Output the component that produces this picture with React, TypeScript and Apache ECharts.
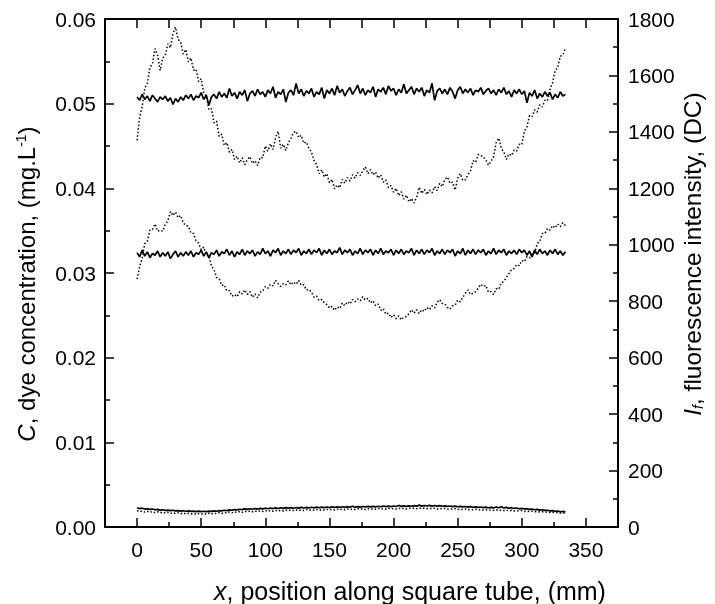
import { useEffect, useRef } from 'react';
import * as echarts from 'echarts';

// sample grid along the tube (mm)
const X_START = 0;
const X_STEP = 2;

// plot frame corners (axis units)
const FRAME = [[-25, 0], [375, 0], [375, 0.06], [-25, 0.06], [-25, 0]];

// fluorescence intensity (DC), right axis - dotted curves
const intensityHigh = [
  1370,1452,1488,1556,1572,1628,1641,1695,1672,1618,
  1662,1671,1712,1698,1748,1771,1728,1718,1676,1692,
  1648,1662,1619,1622,1578,1588,1536,1528,1478,1482,
  1432,1438,1384,1392,1352,1362,1328,1338,1302,1314,
  1290,1308,1284,1302,1312,1288,1298,1281,1310,1308,
  1350,1332,1358,1338,1380,1402,1342,1356,1334,1362,
  1378,1398,1402,1380,1388,1360,1364,1342,1328,1298,
  1284,1252,1266,1240,1252,1220,1232,1198,1212,1202,
  1232,1218,1238,1226,1248,1236,1256,1246,1262,1276,
  1252,1266,1248,1258,1236,1248,1222,1230,1202,1210,
  1186,1200,1174,1188,1162,1176,1152,1164,1148,1168,
  1204,1182,1196,1178,1194,1184,1206,1192,1218,1206,
  1232,1240,1218,1222,1194,1236,1252,1228,1230,1248,
  1262,1298,1292,1320,1316,1312,1300,1282,1296,1312,
  1362,1378,1342,1328,1302,1322,1316,1336,1332,1356,
  1354,1402,1418,1458,1454,1478,1470,1496,1488,1512,
  1510,1552,1574,1618,1628,1668,1672,1696,
];

const intensityMid = [
  878,922,952,1004,1012,1052,1054,1074,1048,1052,
  1048,1072,1084,1118,1104,1116,1096,1104,1078,1068,
  1066,1042,1040,1014,1006,982,992,962,962,924,
  912,884,880,856,858,836,838,818,824,816,
  834,826,840,824,834,814,826,812,832,836,
  852,846,860,854,874,862,852,862,858,872,
  858,868,860,874,856,858,840,842,832,814,
  818,802,806,794,788,776,782,768,780,774,
  794,784,798,790,806,798,808,802,816,804,
  810,794,802,784,790,768,774,754,758,742,
  752,738,748,734,744,746,756,770,758,770,
  756,770,764,778,770,784,776,796,806,792,
  790,778,772,784,786,804,798,814,828,840,
  824,828,834,846,860,852,856,832,834,824,
  844,842,866,870,884,898,912,916,930,926,
  944,940,958,954,968,970,1004,1012,1040,1040,
  1058,1052,1068,1060,1074,1064,1078,1068,
];

const intensityLow = [
  58,54,57,53,56,52,55,51,54,50,
  53,49,52,48,51,47,50,47,50,46,
  49,46,48,45,48,45,48,46,49,46,
  50,47,51,48,52,49,53,50,54,51,
  55,52,56,53,57,54,57,54,58,55,
  58,55,59,56,59,56,60,57,60,57,
  61,58,61,58,61,58,62,59,62,59,
  62,59,62,60,63,60,63,60,63,61,
  64,61,64,61,64,62,65,62,65,62,
  65,62,65,63,66,63,66,63,66,64,
  66,64,67,64,67,64,67,65,67,65,
  68,65,67,65,67,64,67,64,66,64,
  66,63,65,63,65,62,64,62,64,61,
  63,61,63,60,62,60,62,59,61,59,
  61,58,60,58,60,57,59,57,58,56,
  58,55,57,55,56,54,55,53,54,52,
  53,51,52,50,51,49,50,48,
];

// dye concentration (mg/L), left axis - solid curves
const concHigh = [
  0.0508,0.0504,0.0511,0.0505,0.0509,0.0503,0.0510,0.0506,0.0502,0.0508,
  0.0505,0.0509,0.0503,0.0507,0.0499,0.0506,0.0502,0.0508,0.0504,0.0510,
  0.0506,0.0511,0.0504,0.0509,0.0507,0.0513,0.0505,0.0510,0.0498,0.0508,
  0.0511,0.0506,0.0514,0.0508,0.0512,0.0507,0.0518,0.0509,0.0513,0.0506,
  0.0514,0.0510,0.0516,0.0503,0.0512,0.0515,0.0509,0.0517,0.0511,0.0514,
  0.0508,0.0516,0.0512,0.0520,0.0507,0.0514,0.0511,0.0517,0.0502,0.0513,
  0.0516,0.0510,0.0524,0.0512,0.0517,0.0509,0.0515,0.0512,0.0518,0.0508,
  0.0514,0.0511,0.0519,0.0506,0.0516,0.0512,0.0518,0.0510,0.0521,0.0513,
  0.0517,0.0509,0.0515,0.0519,0.0511,0.0516,0.0522,0.0512,0.0518,0.0510,
  0.0516,0.0513,0.0520,0.0508,0.0517,0.0514,0.0519,0.0511,0.0521,0.0515,
  0.0518,0.0510,0.0517,0.0513,0.0523,0.0512,0.0516,0.0520,0.0511,0.0518,
  0.0514,0.0519,0.0509,0.0516,0.0513,0.0524,0.0504,0.0515,0.0518,0.0512,
  0.0517,0.0511,0.0519,0.0514,0.0506,0.0516,0.0520,0.0512,0.0517,0.0513,
  0.0518,0.0510,0.0516,0.0514,0.0519,0.0511,0.0515,0.0518,0.0512,0.0516,
  0.0510,0.0517,0.0513,0.0519,0.0511,0.0515,0.0508,0.0516,0.0512,0.0517,
  0.0511,0.0515,0.0501,0.0513,0.0509,0.0516,0.0506,0.0512,0.0508,0.0514,
  0.0509,0.0513,0.0505,0.0511,0.0507,0.0514,0.0509,0.0511,
];

const concMid = [
  0.0324,0.0319,0.0327,0.0320,0.0325,0.0318,0.0323,0.0321,0.0326,0.0319,
  0.0324,0.0320,0.0325,0.0317,0.0322,0.0326,0.0319,0.0324,0.0320,0.0325,
  0.0321,0.0326,0.0319,0.0324,0.0322,0.0327,0.0320,0.0325,0.0318,0.0324,
  0.0322,0.0327,0.0320,0.0325,0.0323,0.0328,0.0321,0.0326,0.0319,0.0325,
  0.0322,0.0328,0.0321,0.0326,0.0323,0.0327,0.0320,0.0325,0.0322,0.0329,
  0.0323,0.0326,0.0320,0.0327,0.0324,0.0329,0.0321,0.0326,0.0323,0.0328,
  0.0322,0.0327,0.0324,0.0329,0.0321,0.0326,0.0323,0.0328,0.0322,0.0327,
  0.0324,0.0329,0.0321,0.0327,0.0323,0.0328,0.0322,0.0326,0.0324,0.0330,
  0.0322,0.0327,0.0324,0.0328,0.0321,0.0326,0.0323,0.0329,0.0322,0.0327,
  0.0324,0.0328,0.0321,0.0327,0.0323,0.0329,0.0322,0.0326,0.0324,0.0328,
  0.0321,0.0327,0.0323,0.0328,0.0322,0.0326,0.0324,0.0329,0.0321,0.0327,
  0.0323,0.0328,0.0322,0.0327,0.0324,0.0329,0.0321,0.0326,0.0323,0.0328,
  0.0322,0.0327,0.0324,0.0328,0.0320,0.0326,0.0323,0.0329,0.0321,0.0327,
  0.0323,0.0328,0.0322,0.0327,0.0324,0.0328,0.0321,0.0326,0.0323,0.0329,
  0.0322,0.0327,0.0324,0.0328,0.0321,0.0326,0.0323,0.0327,0.0322,0.0328,
  0.0324,0.0327,0.0321,0.0326,0.0319,0.0327,0.0322,0.0328,0.0323,0.0326,
  0.0321,0.0327,0.0323,0.0328,0.0322,0.0326,0.0321,0.0325,
];

const concLow = [
  0.00225,0.00218,0.00222,0.00212,0.00216,0.00208,0.00212,0.00204,0.00208,0.00200,
  0.00204,0.00196,0.00200,0.00194,0.00198,0.00190,0.00194,0.00188,0.00192,0.00186,
  0.00190,0.00184,0.00188,0.00182,0.00187,0.00181,0.00186,0.00182,0.00188,0.00184,
  0.00190,0.00186,0.00194,0.00190,0.00198,0.00194,0.00202,0.00198,0.00206,0.00202,
  0.00210,0.00206,0.00214,0.00208,0.00216,0.00210,0.00218,0.00212,0.00220,0.00214,
  0.00222,0.00216,0.00224,0.00218,0.00226,0.00219,0.00227,0.00220,0.00228,0.00222,
  0.00229,0.00222,0.00230,0.00223,0.00231,0.00224,0.00232,0.00225,0.00233,0.00226,
  0.00234,0.00227,0.00235,0.00228,0.00236,0.00229,0.00237,0.00230,0.00238,0.00231,
  0.00239,0.00232,0.00240,0.00233,0.00246,0.00234,0.00241,0.00235,0.00242,0.00236,
  0.00243,0.00237,0.00244,0.00238,0.00245,0.00239,0.00248,0.00240,0.00247,0.00241,
  0.00248,0.00242,0.00255,0.00243,0.00249,0.00244,0.00250,0.00245,0.00252,0.00246,
  0.00258,0.00247,0.00254,0.00248,0.00256,0.00247,0.00254,0.00246,0.00252,0.00245,
  0.00250,0.00243,0.00248,0.00241,0.00246,0.00239,0.00244,0.00237,0.00242,0.00235,
  0.00240,0.00233,0.00238,0.00231,0.00236,0.00229,0.00234,0.00227,0.00232,0.00225,
  0.00236,0.00227,0.00240,0.00225,0.00232,0.00221,0.00228,0.00219,0.00224,0.00215,
  0.00220,0.00212,0.00216,0.00208,0.00212,0.00204,0.00208,0.00200,0.00204,0.00196,
  0.00198,0.00190,0.00194,0.00186,0.00188,0.00180,0.00184,0.00178,
];

const X_TITLE = '{it|x}, position along square tube, (mm)';
const LEFT_TITLE = '{it|C}, dye concentration, (mg.L{sup|-1})';
const RIGHT_TITLE = '{it|I}{sub|f}, fluorescence intensity, (DC)';

const FONT = '"Liberation Sans", Arial, sans-serif';
const FRAME_COLOR = '#000';

function pair(values: number[]) {
  return values.map((v, i) => [X_START + i * X_STEP, v]);
}

export default function App() {
  const ref = useRef<HTMLDivElement>(null);
  useEffect(() => {
    const chart = echarts.init(ref.current!, null, { renderer: 'svg' });
    const mkLine = () => ({ show: true, onZero: false, lineStyle: { color: FRAME_COLOR, width: 2 } });
    const mkTick = () => ({ show: true, inside: true, length: 9, lineStyle: { color: '#000', width: 1.5 } });
    const mkMinor = () => ({ show: true, splitNumber: 2, length: 5, lineStyle: { color: '#000', width: 1.5 } });
    const labelStyle = { color: '#000', fontSize: 21, fontFamily: FONT };
    const solid = (d: number[]) => ({
      type: 'line', data: pair(d), xAxisIndex: 0, yAxisIndex: 0, showSymbol: false,
      lineStyle: { color: '#000', width: 1.7 },
    });
    const dotted = (d: number[]) => ({
      type: 'line', data: pair(d), xAxisIndex: 0, yAxisIndex: 1, showSymbol: false,
      lineStyle: { color: '#000', width: 1.5, type: [1.5, 2.1] },
    });
    const titleStyle = (size: number) => ({
      fill: '#000', fontSize: size, fontFamily: FONT, align: 'center', verticalAlign: 'middle',
      rich: {
        it: { fontStyle: 'italic', fontSize: size, fontFamily: FONT, fill: '#000' },
        sup: { fontSize: 14, fontFamily: FONT, fill: '#000', verticalAlign: 'top' },
        sub: { fontStyle: 'italic', fontSize: 14, fontFamily: FONT, fill: '#000', verticalAlign: 'bottom' },
      },
    });
    chart.setOption({
      animation: false,
      grid: { left: 105, right: 97, top: 19, bottom: 77 },
      xAxis: [
        {
          type: 'value', position: 'bottom', min: -25, max: 375, splitNumber: 8,
          axisLine: mkLine(), axisTick: mkTick(), minorTick: mkMinor(), splitLine: { show: false },
          axisLabel: {
            ...labelStyle, margin: 12,
            formatter: (v: number) => (v >= 0 && v <= 350 && v % 50 === 0 ? String(v) : ''),
          },
        },
        {
          type: 'value', position: 'top', min: -25, max: 375, interval: 25,
          axisLine: mkLine(), axisTick: mkTick(), axisLabel: { show: false }, splitLine: { show: false },
        },
      ],
      yAxis: [
        {
          type: 'value', position: 'left', min: 0, max: 0.06, interval: 0.01,
          axisLine: mkLine(), axisTick: mkTick(), minorTick: mkMinor(), splitLine: { show: false },
          axisLabel: { ...labelStyle, margin: 9, formatter: (v: number) => v.toFixed(2) },
        },
        {
          type: 'value', position: 'right', min: 0, max: 1800, interval: 200,
          axisLine: mkLine(), axisTick: mkTick(), minorTick: mkMinor(), splitLine: { show: false },
          axisLabel: { ...labelStyle, margin: 10, formatter: (v: number) => String(v) },
        },
      ],
      graphic: [
        { type: 'text', x: 410, y: 591, style: { text: X_TITLE, ...titleStyle(25) } },
        { type: 'text', x: 26, y: 284, rotation: Math.PI / 2, style: { text: LEFT_TITLE, ...titleStyle(24) } },
        { type: 'text', x: 692, y: 254, rotation: Math.PI / 2, style: { text: RIGHT_TITLE, ...titleStyle(24.5) } },
      ],
      series: [
        { type: 'line', data: FRAME, xAxisIndex: 0, yAxisIndex: 0, clip: false, showSymbol: false,
          lineStyle: { color: FRAME_COLOR, width: 2 } },
        solid(concHigh), solid(concMid), solid(concLow),
        dotted(intensityHigh), dotted(intensityMid), dotted(intensityLow),
      ],
    });
    return () => chart.dispose();
  }, []);
  return <div ref={ref} style={{ position: 'fixed', left: 0, top: 0, width: 715, height: 604 }} />;
}
